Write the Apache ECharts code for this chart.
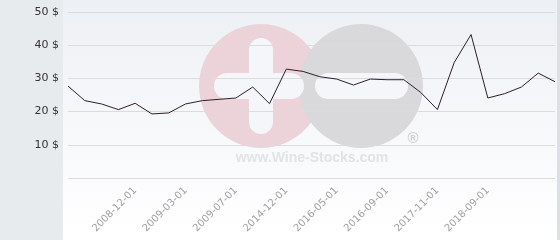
<!DOCTYPE html>
<html>
<head>
<meta charset="utf-8">
<script src="https://cdn.jsdelivr.net/npm/echarts@6/dist/echarts.min.js"></script>
<style>html,body{margin:0;padding:0;background:#fff}#c{width:560px;height:240px}</style>
</head>
<body>
<div id="c"></div>
<script>
// x-axis categories (only the labelled ones are known; others left blank)
var categories = ["", "", "", "", "2008-12-01", "", "", "2009-03-01", "", "", "2009-07-01", "", "", "2014-12-01", "", "", "2016-05-01", "", "", "2016-09-01", "", "", "2017-11-01", "", "", "2018-09-01", "", "", "", ""];
// price values ($)
var prices = [27.7, 23.3, 22.3, 20.6, 22.5, 19.3, 19.6, 22.3, 23.3, 23.7, 24.1, 27.4, 22.4, 32.8, 32.1, 30.5, 29.8, 28.0, 29.8, 29.6, 29.6, 25.8, 20.6, 34.8, 43.2, 24.1, 25.4, 27.4, 31.6, 29.0];
// y-axis ticks
var yTicks = [0, 10, 20, 30, 40, 50];

var chart = echarts.init(document.getElementById('c'), null, {renderer: 'canvas'});
chart.setOption({
  backgroundColor: '#e7ebee',
  animation: false,
  graphic: [
    {type: 'rect', z: -10, shape: {x: 63, y: 0, width: 494, height: 240},
     style: {fill: new echarts.graphic.LinearGradient(0, 0, 0, 1, [{offset: 0, color: '#edf0f4'}, {offset: 1, color: '#ffffff'}])}},
    {type: 'rect', z: -10, shape: {x: 557, y: 0, width: 3, height: 240}, style: {fill: '#dcdfe3'}},
    {type: 'circle', z: -9, shape: {cx: 261, cy: 86, r: 62}, style: {fill: '#ecd3da'}},
    {type: 'circle', z: -9, shape: {cx: 361, cy: 86, r: 62}, style: {fill: '#d9d9db'}},
    {type: 'rect', z: -8, shape: {x: 249, y: 38, width: 24, height: 96, r: 12}, style: {fill: '#f5f6f9'}},
    {type: 'rect', z: -8, shape: {x: 214, y: 73, width: 90, height: 26, r: 13}, style: {fill: '#f5f6f9'}},
    {type: 'rect', z: -8, shape: {x: 315, y: 73, width: 93, height: 26, r: 13}, style: {fill: '#f5f6f9'}},
    {type: 'text', z: -8, x: 312, y: 158, style: {text: 'www.Wine-Stocks.com', fill: '#e2e3e4', font: 'bold 14px "Liberation Sans", Arial, sans-serif', textAlign: 'center', textVerticalAlign: 'middle'}},
    {type: 'text', z: -8, x: 413, y: 139, style: {text: '®', fill: '#d2d2d4', font: 'bold 15px "Liberation Sans", Arial, sans-serif', textAlign: 'center', textVerticalAlign: 'middle'}}
  ],
  grid: {left: 68, right: 5, top: 12, bottom: 62, containLabel: false},
  xAxis: {
    type: 'category',
    data: categories,
    boundaryGap: false,
    axisLine: {show: false},
    axisTick: {show: false},
    splitLine: {show: false},
    axisLabel: {
      interval: 0, rotate: 45, margin: 11,
      color: '#a0a0a0', fontSize: 10,
      fontFamily: '"DejaVu Sans", Verdana, sans-serif'
    }
  },
  yAxis: {
    type: 'value',
    min: yTicks[0], max: yTicks[yTicks.length - 1], interval: 10,
    axisLine: {show: false},
    axisTick: {show: false},
    splitLine: {lineStyle: {color: '#dcdcdc', width: 1}},
    axisLabel: {
      margin: 9, color: '#333', fontSize: 11,
      fontFamily: '"DejaVu Sans", Verdana, sans-serif',
      formatter: function (v) { return v === 0 ? '' : v + ' $'; }
    }
  },
  series: [{
    type: 'line',
    data: prices,
    symbol: 'none',
    lineStyle: {color: '#2e1f2a', width: 1},
    z: 5
  }]
});
</script>
</body>
</html>
